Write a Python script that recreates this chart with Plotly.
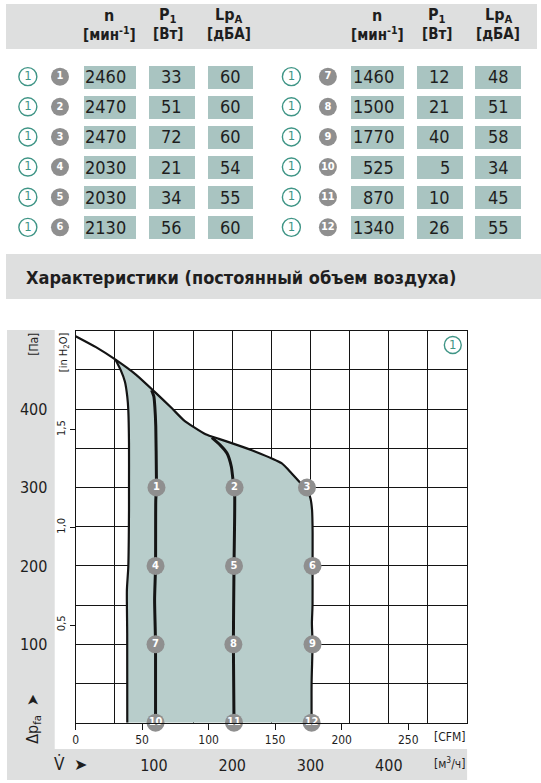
import plotly.graph_objects as go

W, H = 541, 783

# ---------------- data ----------------
speed_no = list(range(1, 13))
n_rpm = [2460, 2470, 2470, 2030, 2030, 2130, 1460, 1500, 1770, 525, 870, 1340]
p1_w = [33, 51, 72, 21, 34, 56, 12, 21, 40, 5, 10, 26]
lpa_dba = [60, 60, 60, 54, 55, 60, 48, 51, 58, 34, 45, 55]

# max curve (envelope), m3/h vs Pa
env_q = [0, 26, 51, 77, 101, 123, 138, 151, 166, 183, 204, 229, 263, 276, 286, 296, 300, 302]
env_p = [493, 479, 463, 444, 422, 401, 386, 377, 368, 362, 355, 346, 331, 318, 307, 297, 286, 271]
# left boundary curve
left_q = [51, 57.5, 63, 66, 67.3, 68.2, 68.2, 68.2, 67.3, 65.5, 65.9, 66]
left_p = [463, 450, 435, 416, 399, 356, 300, 271, 199, 169, 114, 0]
# speed curve through points 1-4-7-10
c1_q = [97, 100, 101.2, 102.4, 103.2, 103.3, 102.4, 102.1, 100.9, 101.6, 102.1, 102.1]
c1_p = [424, 416, 403, 378, 314, 300, 284, 200, 157, 123, 100, 0]
# speed curve through points 2-5-8-11
c2_q = [174, 184.7, 193.4, 198.9, 201, 203, 202.3, 201.5, 202.3]
c2_p = [363.5, 354, 343.6, 326.5, 310, 299, 200, 100, 0]
# speed curve through points 3-6-9-12 (vertical part below the envelope)
c3_q = [302, 302.7, 302.6, 302.6, 301.8, 302.6, 301.4, 301.4]
c3_p = [271, 242, 200, 150, 127, 100, 51, 0]
# operating points
pt_q = [103.3, 203, 295.5, 102.1, 202.3, 302.6, 102.1, 201.5, 302.6, 102.1, 202.3, 301.4]
pt_p = [300, 300, 300, 200, 200, 200, 100, 100, 100, 0, 0, 0]

q_ticks = [100, 200, 300, 400]
p_ticks = [100, 200, 300, 400]
cfm_ticks = [0, 50, 100, 150, 200, 250]
inh2o_ticks = [0.5, 1.0, 1.5]
inh2o_labels = ["0,5", "1,0", "1,5"]

M3H_PER_CFM = 1.69901
PA_PER_INH2O = 249.089
Q_MAX, P_MAX = 500, 500

# ---------------- style ----------------
NARROW = "Liberation Sans Narrow, DejaVu Sans Condensed, Arial Narrow, sans-serif"
TXT = "#1e1e1e"
BAND = "#dedfdf"
BOX = "#a9c4c1"
FILL = "#b8cdcb"
DOT = "#8f8f8f"
TEAL = "#3f9586"
LINE = "#141414"

# plot area in pixels
PL, PR, PT, PB = 73, 466.7, 330.7, 722.7


def fx(px):
    return px / W


def fy(py):
    return 1 - py / H


fig = go.Figure()
SPL = dict(shape="spline", smoothing=0.6)

# ---------------- characteristic chart ----------------
lq0 = left_q[0]
poly_q = left_q[::-1] + [q for q in env_q if q > lq0] + c3_q[1:]
poly_p = left_p[::-1] + [p for q, p in zip(env_q, env_p) if q > lq0] + c3_p[1:]
fig.add_trace(go.Scatter(x=poly_q, y=poly_p, fill="toself", fillcolor=FILL,
                         line=dict(width=0, **SPL), mode="lines", hoverinfo="skip",
                         showlegend=False))
fig.add_trace(go.Scatter(x=env_q + c3_q[1:], y=env_p + c3_p[1:], mode="lines",
                         line=dict(color=LINE, width=2.2, **SPL), showlegend=False))
fig.add_trace(go.Scatter(x=left_q, y=left_p, mode="lines",
                         line=dict(color=LINE, width=2.2, **SPL), showlegend=False))
for cq, cp in ((c1_q, c1_p), (c2_q, c2_p)):
    fig.add_trace(go.Scatter(x=cq, y=cp, mode="lines",
                             line=dict(color=LINE, width=3, **SPL), showlegend=False))
fig.add_trace(go.Scatter(x=pt_q, y=pt_p, mode="markers+text",
                         text=[str(s) for s in speed_no], textposition="middle center",
                         textfont=dict(family=NARROW, size=11, color="white", weight="bold"),
                         marker=dict(size=18, color=DOT, line=dict(width=0)),
                         cliponaxis=False, showlegend=False))

# ---------------- table (rows on own axes) ----------------
row = [i % 6 for i in range(12)]
half = [i // 6 for i in range(12)]
cols = {
    "n": dict(start=[81, 350], width=[53, 53], vals=n_rpm, align="right", pad=8),
    "p1": dict(start=[147.3, 416], width=[45.4, 46.3], vals=p1_w, align="right", pad=10.5),
    "lpa": dict(start=[206, 475], width=[45.7, 45.7], vals=lpa_dba, align="center", pad=0),
}
for key, c in cols.items():
    fig.add_trace(go.Bar(orientation="h", y=row,
                         x=[c["width"][h] for h in half],
                         base=[c["start"][h] for h in half],
                         width=0.76, marker=dict(color=BOX, line=dict(width=0)),
                         xaxis="x3", yaxis="y3", showlegend=False, hoverinfo="skip"))

outline_x = [25, 290]
dot_x = [57.3, 326.7]
fig.add_trace(go.Scatter(x=[outline_x[h] for h in half], y=row, mode="markers+text",
                         text=["1"] * 12, textposition="middle center",
                         textfont=dict(family=NARROW, size=13, color=TEAL),
                         marker=dict(symbol="circle-open", size=18, color=TEAL,
                                     line=dict(width=1.4, color=TEAL)),
                         xaxis="x3", yaxis="y3", showlegend=False))
fig.add_trace(go.Scatter(x=[dot_x[h] for h in half], y=row, mode="markers+text",
                         text=[str(s) for s in speed_no], textposition="middle center",
                         textfont=dict(family=NARROW, size=11, color="white", weight="bold"),
                         marker=dict(size=18, color=DOT),
                         xaxis="x3", yaxis="y3", showlegend=False))

annotations = []
for key, c in cols.items():
    for i in range(12):
        h, r = half[i], row[i]
        if c["align"] == "right":
            xx = c["start"][h] + c["width"][h] - c["pad"]
            anc = "right"
        else:
            xx = c["start"][h] + c["width"][h] / 2
            anc = "center"
        annotations.append(dict(x=xx, y=r, xref="x3", yref="y3", text=str(c["vals"][i]),
                                showarrow=False, xanchor=anc, yanchor="middle",
                                font=dict(family=NARROW, size=18, color=TXT)))

# header
hdr = [("n", "[мин<sup>-1</sup>]", [107, 376.5]),
       ("P<sub>1</sub>", "[Вт]", [166, 436.5]),
       ("Lp<sub>A</sub>", "[дБА]", [227, 498])]
for t1, t2, xs in hdr:
    for xx in xs:
        annotations.append(dict(x=fx(xx), y=fy(15), xref="paper", yref="paper", text=t1,
                                showarrow=False, xanchor="center", yanchor="middle",
                                font=dict(family=NARROW, size=16, color=TXT, weight="bold")))
        annotations.append(dict(x=fx(xx), y=fy(34), xref="paper", yref="paper", text=t2,
                                showarrow=False, xanchor="center", yanchor="middle",
                                font=dict(family=NARROW, size=15, color=TXT, weight="bold")))

# title
annotations.append(dict(x=fx(21), y=fy(277), xref="paper", yref="paper",
                        text="Характеристики (постоянный объем воздуха)",
                        showarrow=False, xanchor="left", yanchor="middle",
                        font=dict(family=NARROW, size=18, color=TXT, weight="bold")))

# axis captions
captions = [
    dict(x=fx(31), y=fy(344), text="[Па]", textangle=-90, font=dict(family=NARROW, size=12, color=TXT)),
    dict(x=fx(61.5), y=fy(352), text="[in H<sub>2</sub>O]", textangle=-90,
         font=dict(family=NARROW, size=11, color=TXT)),
    dict(x=fx(30), y=fy(719), text="Δp<sub>fa</sub>  ➤", textangle=-90,
         font=dict(family=NARROW, size=16, color=TXT)),
    dict(x=fx(57), y=fy(764), text="V\u0307", font=dict(family=NARROW, size=17, color=TXT)),
    dict(x=fx(78), y=fy(764), text="➤", font=dict(family="DejaVu Sans", size=16, color=TXT)),
    dict(x=fx(449), y=fy(737), text="[CFM]", font=dict(family=NARROW, size=12, color=TXT)),
    dict(x=fx(449), y=fy(763), text="[м<sup>3</sup>/ч]", font=dict(family=NARROW, size=12, color=TXT)),
    dict(x=fx(452.3), y=fy(345), text="1", font=dict(family=NARROW, size=13, color=TEAL)),
]
for a in captions:
    a.update(xref="paper", yref="paper", showarrow=False, xanchor="center", yanchor="middle")
annotations += captions

shapes = [
    dict(type="rect", xref="paper", yref="paper", x0=fx(3), x1=fx(537), y0=fy(49), y1=fy(4),
         fillcolor=BAND, line=dict(width=0), layer="below"),
    dict(type="rect", xref="paper", yref="paper", x0=fx(3), x1=fx(541), y0=fy(299), y1=fy(254),
         fillcolor=BAND, line=dict(width=0), layer="below"),
    dict(type="rect", xref="paper", yref="paper", x0=fx(4), x1=fx(52), y0=fy(780), y1=fy(330),
         fillcolor=BAND, line=dict(width=0), layer="below"),
    dict(type="rect", xref="paper", yref="paper", x0=fx(4), x1=fx(PR), y0=fy(780), y1=fy(749),
         fillcolor=BAND, line=dict(width=0), layer="below"),
    dict(type="circle", xref="paper", yref="paper", x0=fx(443.8), x1=fx(460.8), y0=fy(353.5), y1=fy(336.5),
         line=dict(color=TEAL, width=1.4)),
]

axfont = dict(family=NARROW, size=16, color=TXT)
fig.update_layout(
    width=W, height=H, autosize=False,
    margin=dict(l=0, r=0, t=0, b=0, pad=0),
    paper_bgcolor="white", plot_bgcolor="rgba(0,0,0,0)",
    showlegend=False, bargap=0, barmode="overlay",
    annotations=annotations, shapes=shapes,
    xaxis=dict(domain=[fx(PL), fx(PR)], range=[0, Q_MAX], anchor="y",
               tickvals=q_ticks, ticks="", tickfont=axfont, ticklabelstandoff=28,
               showgrid=True, gridcolor=LINE, gridwidth=1,
               minor=dict(dtick=50, tick0=0, showgrid=True, gridcolor=LINE, gridwidth=1),
               showline=True, linecolor=LINE, linewidth=1, mirror=True, zeroline=False,
               fixedrange=True),
    yaxis=dict(domain=[fy(PB), fy(PT)], range=[0, P_MAX], anchor="x",
               tickvals=p_ticks, ticks="", tickfont=axfont, ticklabelstandoff=24,
               showgrid=True, gridcolor=LINE, gridwidth=1,
               minor=dict(dtick=50, tick0=0, showgrid=True, gridcolor=LINE, gridwidth=1),
               showline=True, linecolor=LINE, linewidth=1, mirror=True, zeroline=False,
               fixedrange=True),
    xaxis2=dict(overlaying="x", anchor="y", side="bottom", range=[0, Q_MAX / M3H_PER_CFM],
                tickvals=cfm_ticks, ticks="outside", ticklen=6, tickcolor=LINE,
                tickfont=dict(family=NARROW, size=12, color=TXT), showgrid=False,
                zeroline=False, showline=False),
    yaxis2=dict(overlaying="y", anchor="x", side="left", range=[0, P_MAX / PA_PER_INH2O],
                tickvals=inh2o_ticks, ticktext=inh2o_labels, ticks="outside", ticklen=5,
                tickcolor=LINE, tickangle=-90,
                tickfont=dict(family=NARROW, size=11, color=TXT), showgrid=False,
                zeroline=False, showline=False),
    xaxis3=dict(domain=[0, 1], range=[0, W], anchor="y3", visible=False, fixedrange=True),
    yaxis3=dict(domain=[fy(242.4), fy(61.6)], range=[5.5, -0.5], anchor="x3",
                visible=False, fixedrange=True),
)

# dummy trace to activate secondary axes
fig.add_trace(go.Scatter(x=[0], y=[0], xaxis="x2", yaxis="y2", mode="markers",
                         marker=dict(opacity=0), hoverinfo="skip", showlegend=False))

fig.write_html("out.html", config={"displayModeBar": False},
               post_script="document.body.style.margin='0';document.body.style.overflow='hidden';")
